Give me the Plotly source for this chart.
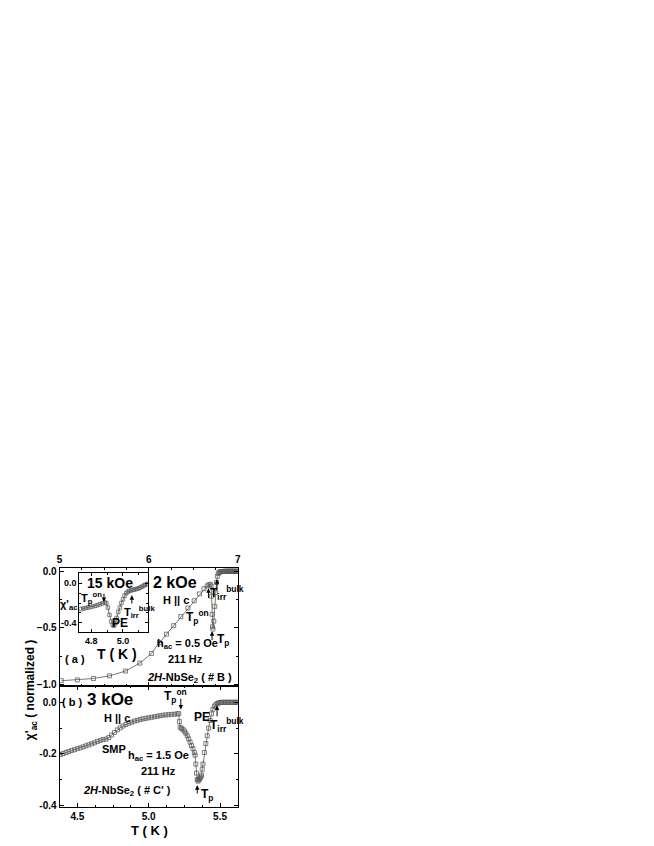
import plotly.graph_objects as go

# ---------------- data ----------------
# panel (a): 2 kOe
T_2kOe = [5.02, 5.20, 5.38, 5.56, 5.74, 5.90, 6.03, 6.12, 6.20, 6.28, 6.36, 6.44, 6.51, 6.57,
          6.62, 6.655, 6.675, 6.69, 6.70, 6.705, 6.71, 6.715, 6.72, 6.73, 6.74, 6.75, 6.76,
          6.77, 6.78, 6.79, 6.80, 6.81, 6.82, 6.83, 6.84, 6.85, 6.86, 6.87, 6.88, 6.89, 6.90,
          6.91, 6.92, 6.93, 6.94, 6.95, 6.96, 6.97, 6.98, 6.99, 7.00]
chi_2kOe = [-0.965, -0.958, -0.946, -0.922, -0.880, -0.810, -0.725, -0.63, -0.555, -0.48, -0.40,
            -0.325, -0.26, -0.20, -0.155, -0.13, -0.12, -0.115, -0.13, -0.22, -0.38, -0.49, -0.51,
            -0.44, -0.31, -0.19, -0.10, -0.045, -0.02, -0.01, -0.006, -0.004, -0.003, -0.002,
            -0.002, -0.001, -0.001, 0.0, 0.0, 0.0, 0.0, 0.0, 0.0, 0.0, 0.0, 0.0, 0.0, 0.0, 0.0,
            0.0, 0.0]

# panel (b): 3 kOe
T_3kOe = [4.38, 4.40, 4.42, 4.44, 4.46, 4.48, 4.50, 4.52, 4.54, 4.56, 4.58, 4.60, 4.62, 4.64,
          4.66, 4.68, 4.70, 4.72, 4.74, 4.76, 4.78, 4.80, 4.82, 4.84, 4.86, 4.88, 4.90, 4.92,
          4.94, 4.96, 4.98, 5.00, 5.02, 5.04, 5.06, 5.08, 5.10, 5.12, 5.14, 5.16, 5.18, 5.20,
          5.21, 5.215, 5.22, 5.23, 5.24, 5.25, 5.26, 5.27, 5.28, 5.29, 5.30, 5.31, 5.32, 5.325,
          5.33, 5.335, 5.34, 5.345, 5.35, 5.355, 5.36, 5.365, 5.37, 5.375, 5.38, 5.39, 5.40,
          5.41, 5.42, 5.43, 5.44, 5.45, 5.46, 5.47, 5.48, 5.49, 5.50, 5.51, 5.52, 5.53, 5.54,
          5.55, 5.56, 5.57, 5.58, 5.59, 5.60, 5.61, 5.62, 5.63]
chi_3kOe = [-0.203, -0.199, -0.195, -0.191, -0.187, -0.184, -0.180, -0.177, -0.173, -0.169,
            -0.165, -0.161, -0.157, -0.152, -0.148, -0.145, -0.143, -0.137, -0.127, -0.117,
            -0.107, -0.099, -0.092, -0.086, -0.081, -0.077, -0.073, -0.070, -0.067, -0.064,
            -0.062, -0.060, -0.058, -0.056, -0.054, -0.052, -0.050, -0.049, -0.048, -0.047,
            -0.046, -0.045, -0.044, -0.075, -0.097, -0.101, -0.106, -0.112, -0.120, -0.130,
            -0.142, -0.155, -0.168, -0.180, -0.195, -0.205, -0.240, -0.275, -0.300, -0.306,
            -0.302, -0.298, -0.294, -0.290, -0.283, -0.260, -0.240, -0.195, -0.160, -0.130,
            -0.100, -0.070, -0.045, -0.027, -0.015, -0.009, -0.005, -0.002, -0.001, 0.0, 0.0,
            0.0, 0.0, 0.0, 0.0, 0.0, 0.0, 0.0, 0.0, 0.0, 0.0, 0.0]

# inset: 15 kOe
T_15kOe = [4.735, 4.75, 4.765, 4.78, 4.795, 4.81, 4.825, 4.84, 4.855, 4.87, 4.885, 4.895, 4.905,
           4.915, 4.925, 4.935, 4.943, 4.952, 4.96, 4.97, 4.98, 4.99, 5.00, 5.01, 5.02, 5.03,
           5.04, 5.05, 5.06, 5.07, 5.08, 5.09, 5.10, 5.11, 5.12, 5.13, 5.14, 5.15, 5.156]
chi_15kOe = [-0.26, -0.255, -0.25, -0.245, -0.24, -0.234, -0.228, -0.22, -0.212, -0.203, -0.195,
             -0.20, -0.245, -0.32, -0.385, -0.42, -0.43, -0.405, -0.35, -0.29, -0.245, -0.20,
             -0.16, -0.125, -0.10, -0.087, -0.078, -0.072, -0.068, -0.064, -0.06, -0.056, -0.05,
             -0.043, -0.034, -0.025, -0.016, -0.01, -0.006]

top_ticks = [5, 6, 7]
bottom_ticks = [4.5, 5.0, 5.5]
inset_xticks = [4.8, 5.0]
inset_yticks = [0.0, -0.4]

# ---------------- layout helpers ----------------
W, H = 654, 846
FONT = "Liberation Sans, Arial, sans-serif"


def px(p):
    return p / W


def py(p):
    return 1 - p / H


LX0, LX1 = 49, 229
A_TOP, A_BOT = 562, 681
B_TOP, B_BOT = 681, 803
I_X0, I_X1, I_Y0, I_Y1 = 69, 138, 567, 626

CLR = "#555555"
mk = dict(symbol="square-open", size=4, color=CLR, line=dict(width=0.75, color=CLR))
ln = dict(color=CLR, width=0.8)

fig = go.Figure()
fig.add_trace(go.Scatter(x=T_2kOe, y=chi_2kOe, xaxis="x", yaxis="y", mode="lines+markers",
                         marker=mk, line=ln, showlegend=False))
fig.add_trace(go.Scatter(x=T_3kOe, y=chi_3kOe, xaxis="x2", yaxis="y2", mode="lines+markers",
                         marker=mk, line=ln, showlegend=False))
fig.add_trace(go.Scatter(x=T_15kOe, y=chi_15kOe, xaxis="x3", yaxis="y3", mode="lines+markers",
                         marker=dict(symbol="square-open", size=3.5, color=CLR,
                                     line=dict(width=0.7, color=CLR)),
                         line=ln, showlegend=False))

tickfont = dict(family=FONT, size=10, color="black", weight="bold")


def axis(**kw):
    d = dict(showline=True, linecolor="black", linewidth=1, mirror="allticks", ticks="inside",
             ticklen=4, tickwidth=1, tickcolor="black", showgrid=False, zeroline=False,
             tickfont=tickfont)
    d.update(kw)
    return d


fig.update_layout(
    width=W, height=H, margin=dict(l=0, r=0, t=0, b=0),
    paper_bgcolor="white", plot_bgcolor="white",
    xaxis=axis(domain=[px(LX0), px(LX1)], anchor="y", side="top", range=[5, 7],
               tickvals=top_ticks, ticktext=[str(v) for v in top_ticks],
               minor=dict(ticks="inside", ticklen=2, dtick=0.25, tickcolor="black")),
    yaxis=axis(domain=[py(A_BOT), py(A_TOP)], anchor="x", range=[-1.015, 0.025],
               dtick=0.5, tickformat=".1f",
               minor=dict(ticks="inside", ticklen=2, dtick=0.25, tickcolor="black")),
    xaxis2=axis(domain=[px(LX0), px(LX1)], anchor="y2", range=[4.375, 5.625],
                tickvals=bottom_ticks, ticktext=["4.5", "5.0", "5.5"],
                minor=dict(ticks="inside", ticklen=2, dtick=0.125, tickcolor="black")),
    yaxis2=axis(domain=[py(B_BOT), py(B_TOP)], anchor="x2", range=[-0.408, 0.062],
                tickvals=[0.0, -0.2, -0.4], ticktext=["0.0", "-0.2", "-0.4"],
                minor=dict(ticks="inside", ticklen=2, dtick=0.1, tickcolor="black")),
    xaxis3=axis(domain=[px(I_X0), px(I_X1)], anchor="y3", range=[4.725, 5.156],
                tickvals=inset_xticks, ticktext=["4.8", "5.0"], ticklen=3,
                tickfont=dict(family=FONT, size=9, color="black", weight="bold"),
                minor=dict(ticks="inside", ticklen=2, dtick=0.1, tickcolor="black")),
    yaxis3=axis(domain=[py(I_Y1), py(I_Y0)], anchor="x3", range=[-0.49, 0.1],
                tickvals=inset_yticks, ticktext=["0.0", "-0.4"], ticklen=3,
                tickfont=dict(family=FONT, size=9, color="black", weight="bold"),
                minor=dict(ticks="inside", ticklen=2, dtick=0.1, tickcolor="black")),
)

ann = []


def txt(x, y, s, size=11, xref="x", yref="y", **kw):
    d = dict(x=x, y=y, text=s, xref=xref, yref=yref, showarrow=False,
             xanchor="center", yanchor="middle",
             font=dict(family=FONT, size=size, color="black", weight="bold"))
    d.update(kw)
    ann.append(d)


def arrow(x, yhead, ytail, xref="x", yref="y"):
    ann.append(dict(x=x, y=yhead, ax=x, ay=ytail, xref=xref, yref=yref, axref=xref,
                    ayref=yref, text="", showarrow=True, arrowhead=2, arrowsize=0.9,
                    arrowwidth=1, arrowcolor="black"))


Tp_on = "T<sub>p</sub><sup>on</sup>"
Tirr = "T<sub>irr</sub><sup>bulk</sup>"

# panel (a)
txt(5.17, -0.77, "( a )")
txt(6.29, -0.10, "2 kOe", size=16)
txt(6.31, -0.255, "H || c", size=11)
txt(6.43, -0.64, "h<sub>ac</sub> = 0.5 Oe", size=11)
txt(6.41, -0.775, "211 Hz", size=11)
txt(6.46, -0.94, "<i>2H</i>-NbSe<sub>2</sub> ( # B )", size=11)
txt(6.55, -0.40, Tp_on, size=12)
arrow(6.67, -0.15, -0.25)
txt(6.88, -0.19, Tirr, size=12)
arrow(6.765, -0.07, -0.18)
txt(6.83, -0.61, "T<sub>p</sub>", size=12)
arrow(6.71, -0.53, -0.62)

# inset
txt(4.92, 0.0, "15 kOe", size=14, xref="x3", yref="y3")
txt(4.80, -0.145, Tp_on, size=11, xref="x3", yref="y3")
arrow(4.88, -0.19, -0.09, xref="x3", yref="y3")
txt(5.105, -0.29, Tirr, size=11, xref="x3", yref="y3")
arrow(5.056, -0.12, -0.22, xref="x3", yref="y3")
txt(4.98, -0.405, "PE", size=12, xref="x3", yref="y3")
txt(px(59), py(599), "χ'<sub>ac</sub>", size=11, xref="paper", yref="paper")
txt(px(107), py(648), "T ( K )", size=14, xref="paper", yref="paper")

# panel (b)
txt(4.46, 0.0, "( b )", xref="x2", yref="y2")
txt(4.73, 0.01, "3 kOe", size=17, xref="x2", yref="y2")
txt(4.78, -0.06, "H || c", size=11, xref="x2", yref="y2")
txt(5.19, 0.025, Tp_on, size=12, xref="x2", yref="y2")
arrow(5.225, -0.028, 0.02, xref="x2", yref="y2")
txt(5.37, -0.056, "PE", size=12, xref="x2", yref="y2")
txt(5.55, -0.09, Tirr, size=12, xref="x2", yref="y2")
arrow(5.479, -0.012, -0.06, xref="x2", yref="y2")
txt(4.757, -0.183, "SMP", size=11, xref="x2", yref="y2")
txt(5.07, -0.21, "h<sub>ac</sub> = 1.5 Oe", size=11, xref="x2", yref="y2")
txt(5.07, -0.265, "211 Hz", size=11, xref="x2", yref="y2")
txt(4.85, -0.346, "<i>2H</i>-NbSe<sub>2</sub> ( # C' )", size=11, xref="x2", yref="y2")
txt(5.41, -0.36, "T<sub>p</sub>", size=12, xref="x2", yref="y2")
arrow(5.34, -0.322, -0.36, xref="x2", yref="y2")

# axis titles
txt(px(21), py(685), "χ'<sub>ac</sub> ( normalized )", size=12, xref="paper", yref="paper",
    textangle=-90)
txt(px(140), py(826), "T ( K )", size=13, xref="paper", yref="paper")

fig.update_layout(annotations=ann)
fig.write_html("out.html")
